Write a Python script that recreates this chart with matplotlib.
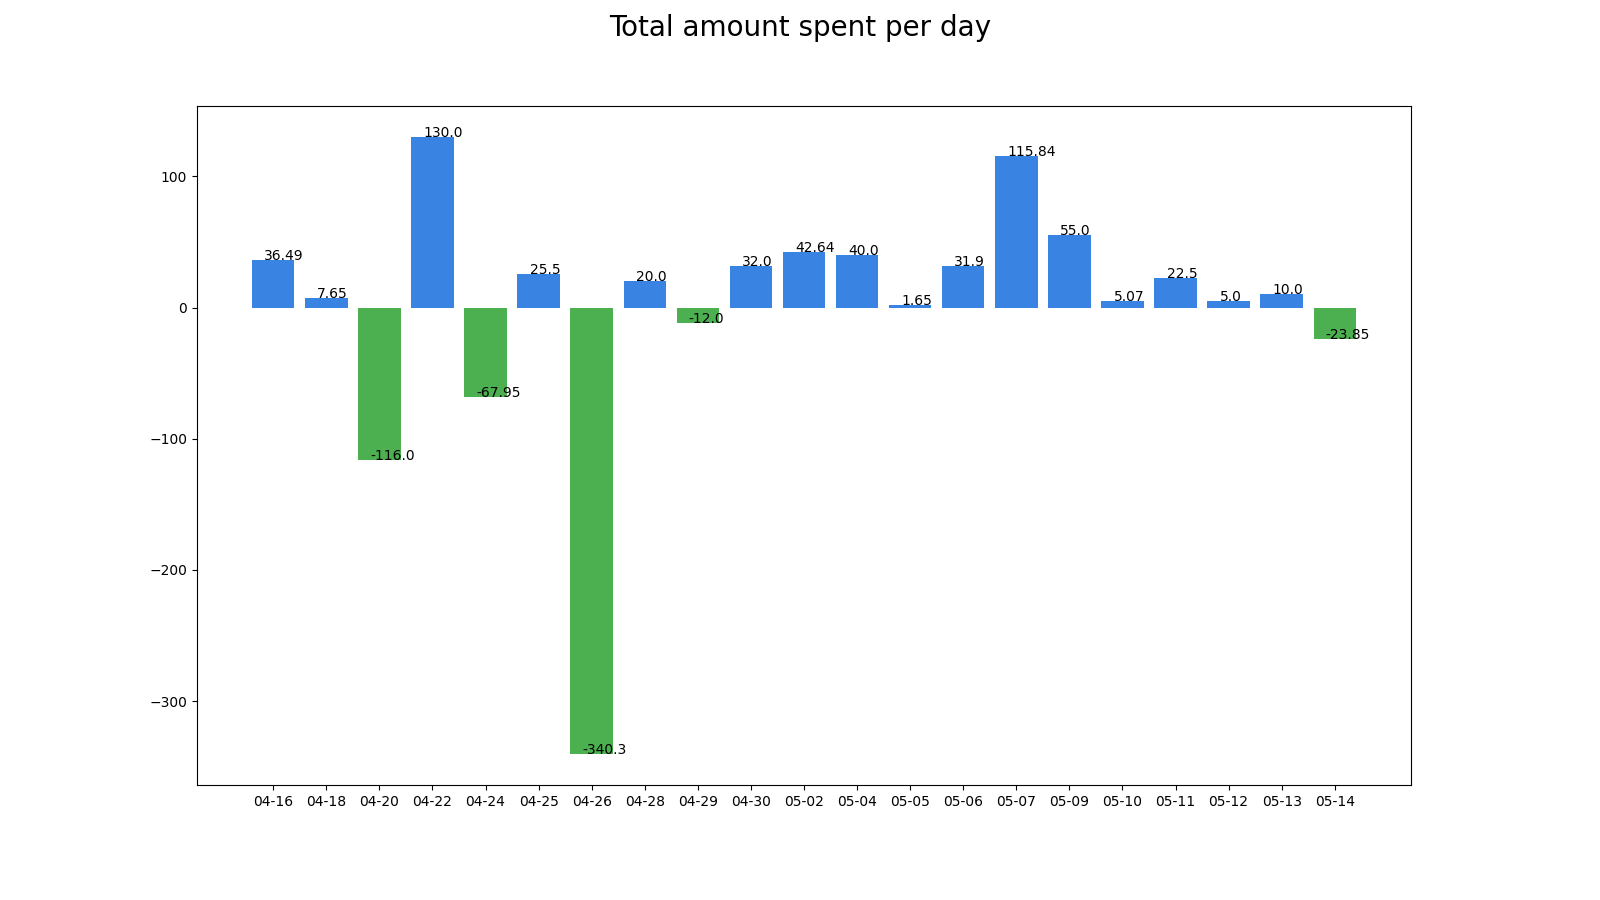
import matplotlib
matplotlib.use("Agg")
import matplotlib.pyplot as plt

days = ["04-16", "04-18", "04-20", "04-22", "04-24", "04-25", "04-26", "04-28",
        "04-29", "04-30", "05-02", "05-04", "05-05", "05-06", "05-07", "05-09",
        "05-10", "05-11", "05-12", "05-13", "05-14"]
amounts = [36.49, 7.65, -116.0, 130.0, -67.95, 25.5, -340.3, 20.0,
           -12.0, 32.0, 42.64, 40.0, 1.65, 31.9, 115.84, 55.0,
           5.07, 22.5, 5.0, 10.0, -23.85]

fig = plt.figure(figsize=(16, 9), dpi=100)
ax = fig.add_axes([0.123, 0.128, 0.759, 0.754])

colors = ["#3984e3" if a >= 0 else "#4caf50" for a in amounts]
x = list(range(len(days)))
ax.bar(x, amounts, color=colors)
for i, a in enumerate(amounts):
    ax.text(i - 0.17, a, str(a), fontsize=10)

ax.set_xticks(x)
ax.set_xticklabels(days)
fig.suptitle("Total amount spent per day", fontsize=20, y=0.985)

fig.savefig("out.png")
